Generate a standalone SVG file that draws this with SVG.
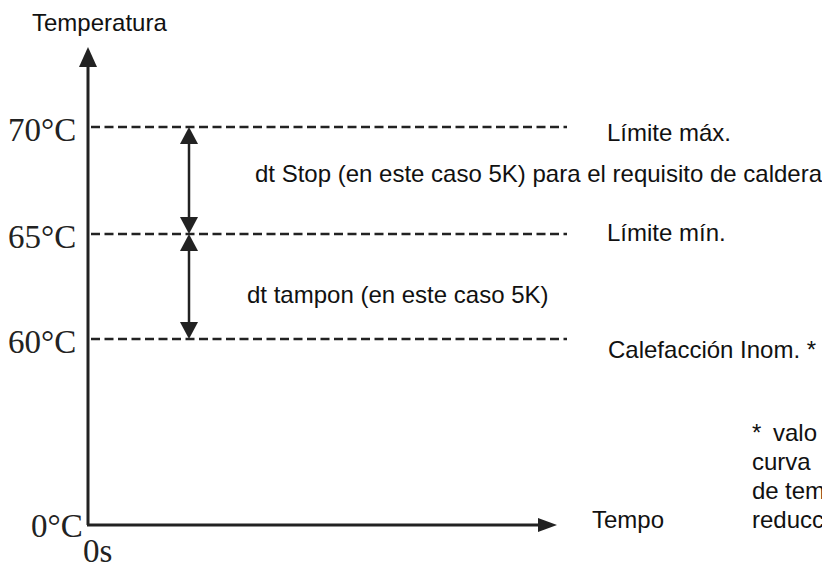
<svg xmlns="http://www.w3.org/2000/svg" width="822" height="569" viewBox="0 0 822 569">
<style>
.sans{font-family:"Liberation Sans",Arial,sans-serif;font-size:24px;fill:#111}
.serif{font-family:"Liberation Serif","Times New Roman",serif;font-size:33px;fill:#222}
.axis{stroke:#222;stroke-width:3;fill:none}
.dash{stroke:#222;stroke-width:2.6;stroke-dasharray:9 4.5;fill:none}
.dt{stroke:#222;stroke-width:2.5;fill:none}
.head{fill:#222}
</style>
<rect width="822" height="569" fill="#fff"/>
<g id="axes">
<line class="axis" x1="88" y1="62" x2="88" y2="525"/>
<polygon class="head" points="88,47 79,67 97,67"/>
<line class="axis" x1="87" y1="525" x2="542" y2="525"/>
<polygon class="head" points="557,525 538,518 538,532"/>
</g>
<g id="levels">
<line id="l70" class="dash" x1="91" y1="127" x2="567" y2="127"/>
<line id="l65" class="dash" x1="91" y1="234" x2="567" y2="234"/>
<line id="l60" class="dash" x1="91" y1="339" x2="567" y2="339"/>
</g>
<g id="connectors">
<g id="dtStop">
<line class="dt" x1="189" y1="140" x2="189" y2="221"/>
<polygon class="head" points="189,127 180,144 198,144"/>
<polygon class="head" points="189,234 180,217 198,217"/>
</g>
<g id="dtTampon">
<line class="dt" x1="189" y1="247" x2="189" y2="326"/>
<polygon class="head" points="189,234 180,251 198,251"/>
<polygon class="head" points="189,339 180,322 198,322"/>
</g>
</g>
<g id="labels">
<text class="sans" x="32" y="31">Temperatura</text>
<text class="serif" x="8" y="141">70°C</text>
<text class="serif" x="8" y="248">65°C</text>
<text class="serif" x="8" y="353">60°C</text>
<text class="serif" x="31" y="537">0°C</text>
<text class="serif" x="83" y="562">0s</text>
<text class="sans" x="607" y="141">Límite máx.</text>
<text class="sans" x="255" y="182">dt Stop (en este caso 5K) para el requisito de caldera</text>
<text class="sans" x="607" y="241">Límite mín.</text>
<text class="sans" x="247" y="303">dt tampon (en este caso 5K)</text>
<text class="sans" x="608" y="358">Calefacción Inom. *</text>
<text class="sans" x="592" y="528">Tempo</text>
<text class="sans" x="752" y="441">*<tspan x="773">valo</tspan></text>
<text class="sans" x="752" y="470">curva</text>
<text class="sans" x="752" y="499">de<tspan x="785">tem</tspan></text>
<text class="sans" x="752" y="528">reducc</text>
</g>
</svg>
